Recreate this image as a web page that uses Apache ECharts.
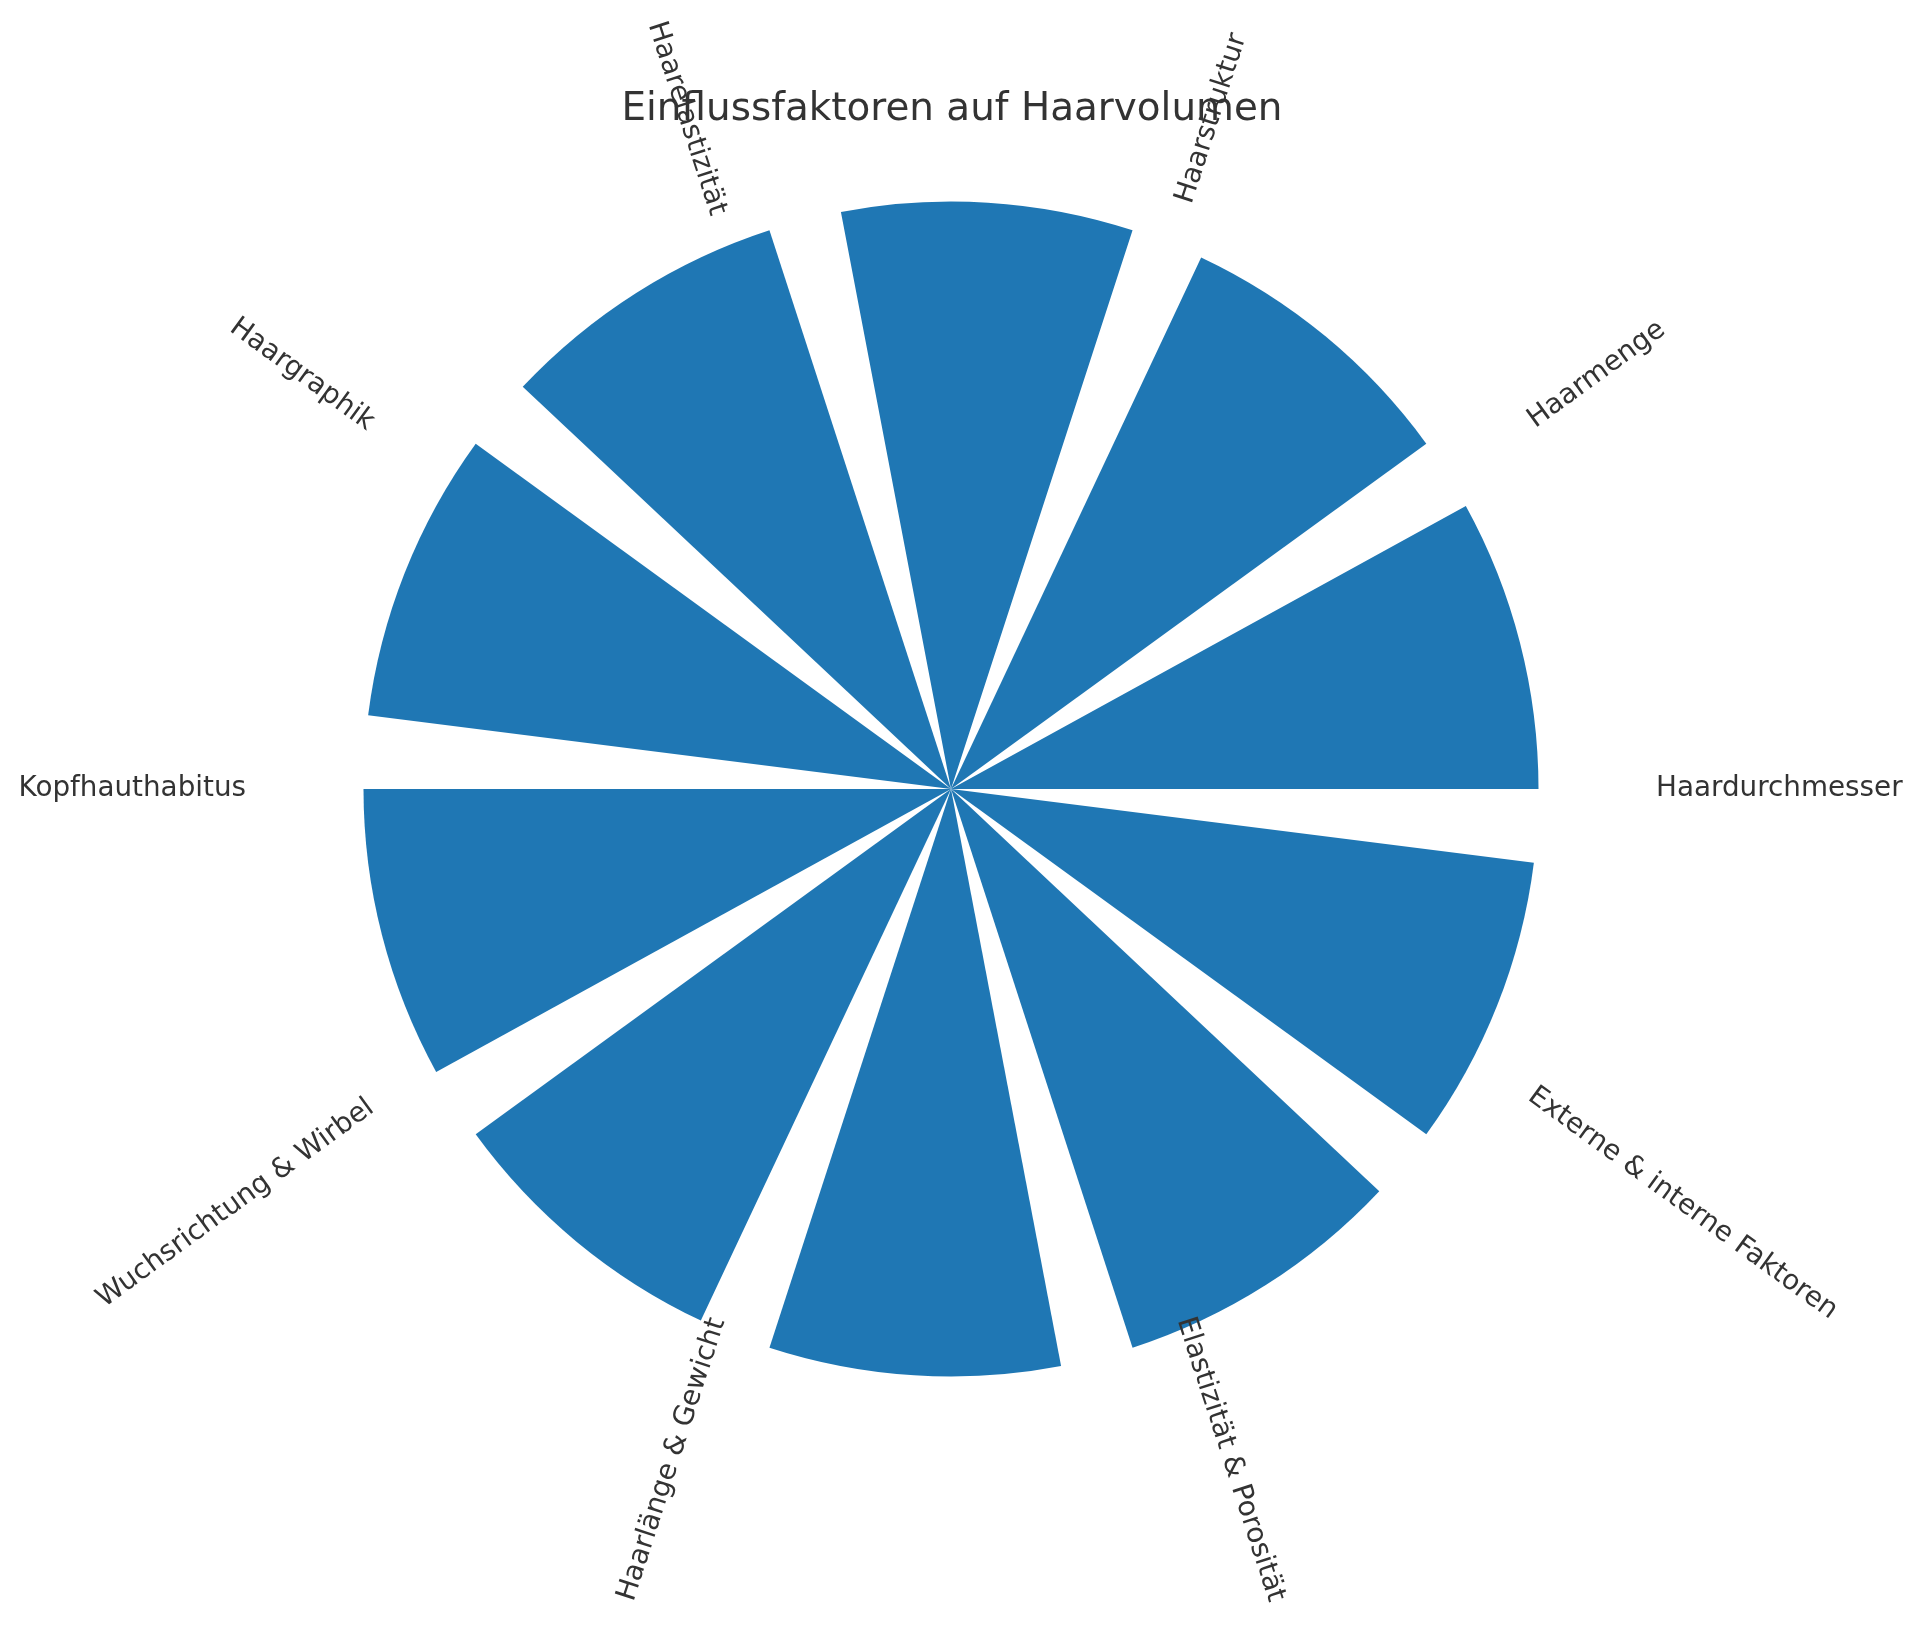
<!DOCTYPE html>
<html>
<head>
<meta charset="utf-8">
<script src="https://cdn.jsdelivr.net/npm/echarts@6/dist/echarts.min.js"></script>
<style>
html,body{margin:0;padding:0;background:#fff;}
#chart{width:1904px;height:1625px;}
</style>
</head>
<body>
<div id="chart"></div>
<script>
const titleText = 'Einflussfaktoren auf Haarvolumen';
const categories = ['Haardurchmesser', 'Haarmenge', 'Haarstruktur', 'Haarelastizität', 'Haargraphik',
  'Kopfhauthabitus', 'Wuchsrichtung & Wirbel', 'Haarlänge & Gewicht', 'Elastizität & Porosität', 'Externe & interne Faktoren'];
const values = [10, 10, 10, 10, 10, 10, 10, 10, 10, 10];
const tickAngles = [0, 36, 72, 108, 144, 180, 216, 252, 288, 324];

const CENTER = [951, 789];
const RADIUS = 705;
const LABEL_FONT = 27.8;
const FONT_FAMILY = '"DejaVu Sans", sans-serif';
const TEXT_COLOR = '#333333';

const measureCtx = document.createElement('canvas').getContext('2d');
measureCtx.font = LABEL_FONT + 'px ' + FONT_FAMILY;

const chart = echarts.init(document.getElementById('chart'), null, {renderer: 'canvas'});

const option = {
  backgroundColor: '#ffffff',
  animation: false,
  title: {
    text: titleText,
    left: 'center',
    top: 85,
    textStyle: {fontFamily: FONT_FAMILY, fontSize: 38.9, fontWeight: 'normal', color: TEXT_COLOR}
  },
  polar: [
    {center: CENTER, radius: RADIUS},
    {center: CENTER, radius: RADIUS}
  ],
  angleAxis: [
    {
      polarIndex: 0, type: 'category', data: categories,
      startAngle: -3.6, clockwise: false, boundaryGap: true,
      axisLine: {show: false}, axisTick: {show: false}, axisLabel: {show: false}, splitLine: {show: false}
    },
    {
      polarIndex: 1, type: 'value', min: 0, max: 360, interval: 36,
      startAngle: 0, clockwise: false,
      axisLine: {show: false}, axisTick: {show: false}, axisLabel: {show: false}, splitLine: {show: false}
    }
  ],
  radiusAxis: [
    {
      polarIndex: 0, type: 'value', min: 0, max: 12,
      axisLine: {show: false}, axisTick: {show: false}, axisLabel: {show: false}, splitLine: {show: false}
    },
    {
      polarIndex: 1, type: 'value', min: 0, max: 1,
      axisLine: {show: false}, axisTick: {show: false}, axisLabel: {show: false}, splitLine: {show: false}
    }
  ],
  series: [
    {
      type: 'bar',
      coordinateSystem: 'polar',
      polarIndex: 0,
      data: values,
      barCategoryGap: '20%',
      itemStyle: {color: '#1f77b4'},
      z: 2
    },
    {
      type: 'custom',
      coordinateSystem: 'polar',
      polarIndex: 1,
      data: tickAngles.map(function (a) { return [1, a]; }),
      z: 10,
      renderItem: function (params, api) {
        const i = params.dataIndex;
        const ang = api.value(1);
        const p = api.coord([api.value(0), ang]);
        const name = categories[i];
        const rad = ang * Math.PI / 180;
        const right = Math.cos(rad) >= 0;
        let rot = right ? ang : ang - 180;
        if (rot > 90) rot -= 360;
        if (rot < -90) rot += 360;
        const r = rot * Math.PI / 180;
        const L = measureCtx.measureText(name).width;
        const H = LABEL_FONT * 1.17;
        const W = L * Math.abs(Math.cos(r)) + H * Math.abs(Math.sin(r));
        return {
          type: 'text',
          x: p[0] + (right ? W / 2 : -W / 2),
          y: p[1],
          rotation: r,
          style: {
            text: name,
            fontSize: LABEL_FONT,
            fontFamily: FONT_FAMILY,
            fill: TEXT_COLOR,
            align: 'center',
            verticalAlign: 'middle'
          }
        };
      }
    }
  ]
};
chart.setOption(option);
</script>
</body>
</html>
